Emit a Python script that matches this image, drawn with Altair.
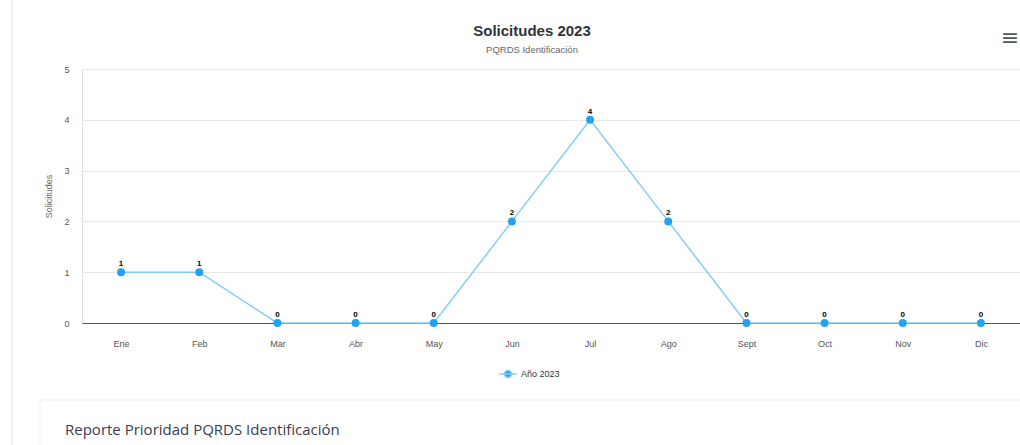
import altair as alt
import pandas as pd

meses = ["Ene", "Feb", "Mar", "Abr", "May", "Jun", "Jul", "Ago", "Sept", "Oct", "Nov", "Dic"]
valores = [1, 1, 0, 0, 0, 2, 4, 2, 0, 0, 0, 0]
serie = ["Año 2023"] * len(meses)

df = pd.DataFrame({"mes": meses, "valor": valores, "serie": serie})

LINE_C = "#86cdf6"
POINT_C = "#22a3f2"
FONT = "Liberation Sans"

x_enc = alt.X("mes:N", sort=meses,
              scale=alt.Scale(paddingInner=0, paddingOuter=0),
              axis=alt.Axis(title=None, labelAngle=0, labelFontSize=9, labelColor="#555555",
                            labelPadding=16, ticks=False, domainColor="#555555",
                            domainWidth=1, grid=False, labelFont=FONT))
y_enc = alt.Y("valor:Q", scale=alt.Scale(domain=[0, 5], nice=False),
              axis=alt.Axis(title="Solicitudes", titleFontSize=9, titleFontWeight="normal",
                            titleColor="#666666", titlePadding=10, labelFontSize=9,
                            labelColor="#555555", labelPadding=13, ticks=False, domain=False,
                            values=[0, 1, 2, 3, 4, 5], labelOverlap=False, gridColor="#e9e9e9",
                            labelFont=FONT, titleFont=FONT))

base = alt.Chart(df)

line = base.mark_line(color=LINE_C, strokeWidth=1.5).encode(x=x_enc, y=y_enc)

points = base.mark_point(filled=True, opacity=1, size=64).encode(
    x=x_enc, y=y_enc,
    color=alt.Color("serie:N", scale=alt.Scale(range=[POINT_C]),
                    legend=alt.Legend(title=None, orient="none", legendX=421, legendY=300,
                                      symbolType="M-2.3,0L2.3,0M-0.9,0A0.9,0.9,0,1,1,0.9,0A0.9,0.9,0,1,1,-0.9,0",
                                      symbolSize=60, symbolStrokeColor=LINE_C,
                                      symbolStrokeWidth=1.5, labelFontSize=9,
                                      labelColor="#333333", labelFont=FONT, padding=0,
                                      labelOffset=8))
)

labels = base.mark_text(dy=-8, fontSize=8, fontWeight="bold", color="#000000", font=FONT).encode(
    x=x_enc, y=y_enc, text="valor:Q")

# Titles and decorations
titulo = "Solicitudes 2023"
subtitulo = "PQRDS Identificación"
reporte = "Reporte Prioridad PQRDS Identificación"

deco = alt.Chart(pd.DataFrame({"titulo": [titulo], "subtitulo": [subtitulo], "reporte": [reporte]}))
title_txt = deco.mark_text(fontSize=15, fontWeight="bold", color="#333333", font=FONT,
                           baseline="middle").encode(
    x=alt.value(450), y=alt.value(-38), text="titulo:N")
subtitle_txt = deco.mark_text(fontSize=9.5, color="#666666", font=FONT, baseline="middle").encode(
    x=alt.value(450), y=alt.value(-19), text="subtitulo:N")
card_rect = deco.mark_rect(fill="#ffffff", stroke="#f0f0f0", strokeWidth=1).encode(
    x=alt.value(-42), x2=alt.value(960), y=alt.value(331), y2=alt.value(400))
card_text = deco.mark_text(align="left", baseline="middle", fontSize=15, color="#3b3b4d",
                           font="Open Sans").encode(
    x=alt.value(-17), y=alt.value(361), text="reporte:N")
left_rule = deco.mark_rule(color="#e6f1fb", strokeWidth=2).encode(
    x=alt.value(-70), y=alt.value(-69), y2=alt.value(400))
menu = deco.mark_text(fontSize=22, color="#555555", font="DejaVu Sans").encode(
    x=alt.value(928), y=alt.value(-31), text=alt.value("≡"))

chart = alt.layer(left_rule, card_rect, card_text, menu, title_txt, subtitle_txt,
                  line, points, labels).properties(
    width=938, height=254,
    autosize=alt.AutoSizeParams(type="none"),
    padding={"left": 82, "top": 69, "right": 0, "bottom": 122},
).configure_view(strokeWidth=0, stroke="transparent").configure(background="#ffffff")

chart.save("out.html", embed_options={"renderer": "svg", "actions": False})
